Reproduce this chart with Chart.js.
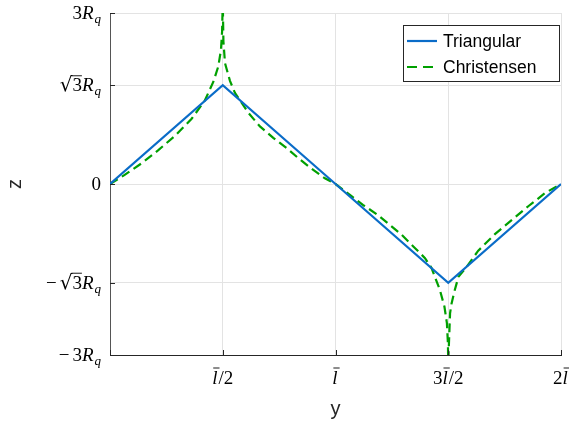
<!DOCTYPE html>
<html>
<head>
<meta charset="utf-8">
<script src="https://cdn.jsdelivr.net/npm/chart.js@4"></script>
<style>
  html, body { margin: 0; padding: 0; background: #fff; }
  #wrap { width: 569px; height: 428px; position: relative; }
</style>
</head>
<body>
<div id="wrap"><canvas id="chart" width="569" height="428"></canvas></div>
<script>
// values in units of l-bar (x) and R_q (z)
const SQ3 = 1.7320508;
const xTicks = [0, 0.5, 1, 1.5, 2];
const zTicks = [-3, -SQ3, 0, SQ3, 3];

const triX = [0, 0.5, 1, 1.5, 2];
const triZ = [0, SQ3, 0, -SQ3, 0];

const chrX = [0, 0.065, 0.139, 0.213, 0.287, 0.361, 0.42, 0.458, 0.48, 0.492, 0.497, 0.4995,
  0.5005, 0.503, 0.51, 0.532, 0.554, 0.576, 0.613, 0.665, 0.724, 0.783, 0.835, 0.887, 0.953, 1.0,
  1.064, 1.123, 1.183, 1.242, 1.293, 1.345, 1.397, 1.426, 1.463, 1.483, 1.494, 1.4985, 1.4998,
  1.5003, 1.508, 1.515, 1.527, 1.545, 1.582, 1.633, 1.707, 1.781, 1.855, 1.929, 2.0];
const chrZ = [0, 0.16, 0.36, 0.59, 0.84, 1.14, 1.46, 1.79, 2.06, 2.35, 2.67, 3.1,
  3.1, 2.5, 2.12, 1.81, 1.60, 1.47, 1.25, 1.01, 0.81, 0.63, 0.454, 0.29, 0.10, 0,
  -0.19, -0.37, -0.53, -0.72, -0.89, -1.095, -1.30, -1.475, -1.86, -2.15, -2.44, -2.8, -3.1,
  -3.1, -2.27, -2.09, -1.89, -1.63, -1.45, -1.17, -0.88, -0.635, -0.39, -0.16, 0];

const BLUE = '#0a6cc8';
const GREEN = '#00a000';
const SERIF = '"Liberation Serif", "DejaVu Serif", serif';
const SANS = '"Liberation Sans", Arial, sans-serif';

// label pieces: t text, i italic, sub subscript, bar overline, rad root sign, gap extra space after
const yLabels = [
  [{t: '\u2212', gap: 3}, {t: '3'}, {t: 'R', i: 1}, {t: 'q', i: 1, sub: 1}],
  [{t: '\u2212', gap: 3}, {t: '\u221A', rad: 1}, {t: '3', bar: 1}, {t: 'R', i: 1}, {t: 'q', i: 1, sub: 1}],
  [{t: '0'}],
  [{t: '\u221A', rad: 1}, {t: '3', bar: 1}, {t: 'R', i: 1}, {t: 'q', i: 1, sub: 1}],
  [{t: '3'}, {t: 'R', i: 1}, {t: 'q', i: 1, sub: 1}]
];
const xLabels = [
  null,
  [{t: 'l', i: 1, bar: 1}, {t: '/2'}],
  [{t: 'l', i: 1, bar: 1}],
  [{t: '3'}, {t: 'l', i: 1, bar: 1}, {t: '/2'}],
  [{t: '2'}, {t: 'l', i: 1, bar: 1}]
];

function pieceFont(p) {
  if (p.sub) return 'italic 13px ' + SERIF;
  if (p.rad) return '20px "DejaVu Serif", serif';
  return (p.i ? 'italic ' : '') + '19px ' + SERIF;
}

function drawRich(ctx, parts, x, base, align) {
  let w = 0;
  const ws = parts.map(p => {
    ctx.font = pieceFont(p);
    const m = ctx.measureText(p.t).width + (p.i && !p.sub ? 1 : 0) + (p.gap || 0);
    w += m;
    return m;
  });
  let cx = align === 'right' ? x - w : x - w / 2;
  parts.forEach((p, k) => {
    ctx.font = pieceFont(p);
    ctx.fillStyle = '#000';
    ctx.fillText(p.t, cx, p.sub ? base + 4 : base);
    if (p.bar) {
      ctx.strokeStyle = '#000';
      ctx.lineWidth = 0.9;
      ctx.beginPath();
      const by = p.i ? base - 16 : base - 15.5;
      const x0 = p.i ? cx + 1 : cx - 1;
      ctx.moveTo(x0, by);
      ctx.lineTo(cx + ws[k] + (p.i ? 1 : 0), by);
      ctx.stroke();
    }
    cx += ws[k];
  });
}

const decor = {
  id: 'decor',
  afterDraw(chart) {
    const ctx = chart.ctx;
    const xs = chart.scales.x, ys = chart.scales.y;
    const a = chart.chartArea;
    ctx.save();
    // inward tick marks
    ctx.strokeStyle = '#262626';
    ctx.lineWidth = 1;
    xTicks.forEach(v => {
      const px = Math.round(xs.getPixelForValue(v)) + 0.5;
      ctx.beginPath(); ctx.moveTo(px, a.bottom); ctx.lineTo(px, a.bottom - 5); ctx.stroke();
    });
    zTicks.forEach(v => {
      const py = Math.round(ys.getPixelForValue(v)) + 0.5;
      ctx.beginPath(); ctx.moveTo(a.left, py); ctx.lineTo(a.left + 5, py); ctx.stroke();
    });
    // tick labels
    zTicks.forEach((v, k) => drawRich(ctx, yLabels[k], a.left - 9, ys.getPixelForValue(v) + 6, 'right'));
    xTicks.forEach((v, k) => { if (xLabels[k]) drawRich(ctx, xLabels[k], xs.getPixelForValue(v), 384, 'center'); });
    // axis titles
    ctx.fillStyle = '#262626';
    ctx.font = '20px ' + SANS;
    ctx.textAlign = 'center';
    ctx.textBaseline = 'middle';
    ctx.fillText('y', (a.left + a.right) / 2, 409);
    ctx.save();
    ctx.translate(15, (a.top + a.bottom) / 2);
    ctx.rotate(-Math.PI / 2);
    ctx.fillText('z', 0, 0);
    ctx.restore();
    // legend box
    const lx = 403.5, ly = 25.5, lw = 156, lh = 56;
    ctx.fillStyle = '#fff';
    ctx.fillRect(lx, ly, lw, lh);
    ctx.strokeStyle = '#262626';
    ctx.lineWidth = 1;
    ctx.strokeRect(lx, ly, lw, lh);
    const items = [
      {label: 'Triangular', color: BLUE, dash: []},
      {label: 'Christensen', color: GREEN, dash: [10, 6]}
    ];
    items.forEach((it, k) => {
      const yy = 41 + k * 26;
      ctx.strokeStyle = it.color;
      ctx.lineWidth = 2.2;
      ctx.setLineDash(it.dash);
      ctx.beginPath(); ctx.moveTo(407, yy); ctx.lineTo(437, yy); ctx.stroke();
      ctx.setLineDash([]);
      ctx.fillStyle = '#000';
      ctx.font = '17.5px ' + SANS;
      ctx.textAlign = 'left';
      ctx.fillText(it.label, 443, yy + 1);
    });
    ctx.restore();
  }
};

new Chart(document.getElementById('chart'), {
  type: 'line',
  data: {
    datasets: [
      {
        label: 'Triangular',
        data: triX.map((x, i) => ({x, y: triZ[i]})),
        borderColor: BLUE,
        borderWidth: 2.2,
        pointRadius: 0,
        tension: 0
      },
      {
        label: 'Christensen',
        data: chrX.map((x, i) => ({x, y: chrZ[i]})),
        borderColor: GREEN,
        borderWidth: 2.2,
        borderDash: [9, 5],
        pointRadius: 0,
        tension: 0
      }
    ]
  },
  options: {
    responsive: false,
    animation: false,
    layout: { padding: { left: 110, right: 8, top: 13, bottom: 73 } },
    plugins: { legend: { display: false }, tooltip: { enabled: false } },
    scales: {
      x: {
        type: 'linear', min: 0, max: 2,
        afterBuildTicks: s => { s.ticks = xTicks.map(v => ({value: v})); },
        ticks: { display: false },
        grid: { color: '#e3e3e3', drawTicks: false },
        border: { display: true, color: '#262626', width: 1 }
      },
      y: {
        type: 'linear', min: -3, max: 3,
        afterBuildTicks: s => { s.ticks = zTicks.map(v => ({value: v})); },
        ticks: { display: false },
        grid: { color: '#e3e3e3', drawTicks: false },
        border: { display: true, color: '#555', width: 1 }
      }
    }
  },
  plugins: [decor]
});
</script>
</body>
</html>
